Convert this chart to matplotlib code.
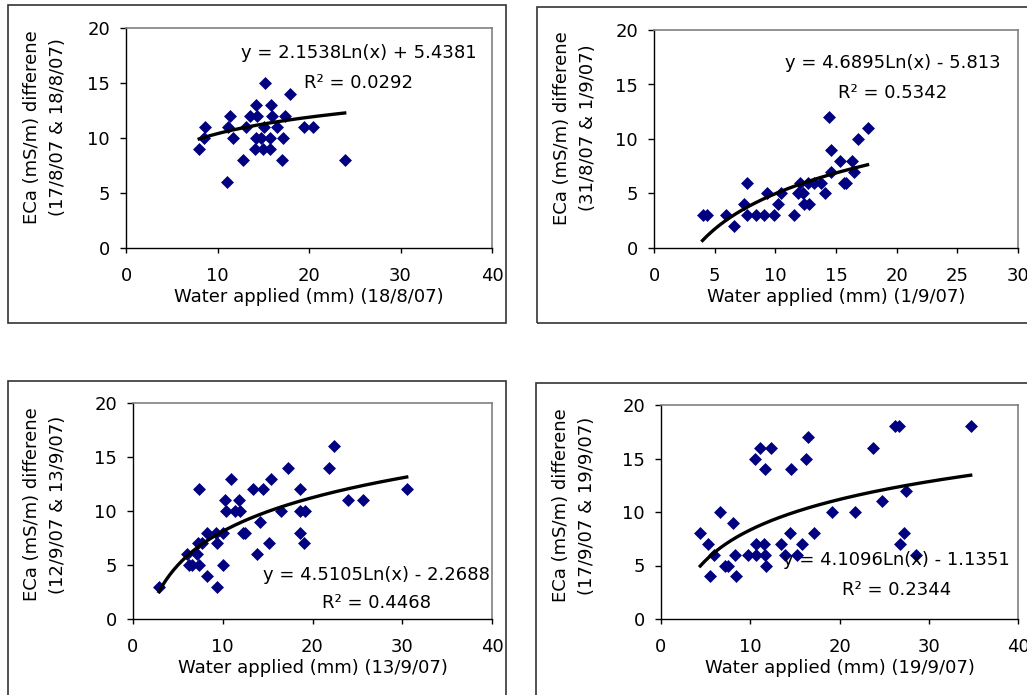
import numpy as np
import matplotlib
matplotlib.use("Agg")
import matplotlib.pyplot as plt
from matplotlib.patches import Rectangle

plt.rcParams['font.family'] = ['DejaVu Sans']
plt.rcParams['font.size'] = 13

# panel 1 : 17/8/07 & 18/8/07
p1_x = [8.0, 8.6, 8.5, 11.0, 11.4, 11.1, 11.7, 12.8, 13.1, 13.5, 14.2, 14.3, 14.2, 14.1,
        15.0, 15.2, 15.1, 15.9, 16.0, 15.7, 15.7, 16.5, 14.8, 17.0, 17.2, 17.4, 17.9,
        19.4, 20.4, 23.9]
p1_y = [9, 11, 10, 6, 12, 11, 10, 8, 11, 12, 13, 12, 10, 9,
        9, 15, 11, 13, 12, 10, 9, 11, 10, 8, 10, 12, 14,
        11, 11, 8]

# panel 2 : 31/8/07 & 1/9/07
p2_x = [4.0, 4.4, 5.9, 6.6, 7.4, 7.7, 7.7, 8.4, 9.1, 9.3, 9.9, 10.2, 10.5, 11.5, 11.9,
        12.0, 12.3, 12.4, 12.8, 12.7, 13.2, 13.8, 14.1, 14.4, 14.6, 14.6, 15.3, 15.7,
        15.8, 16.3, 16.5, 16.8, 17.6]
p2_y = [3, 3, 3, 2, 4, 6, 3, 3, 3, 5, 3, 4, 5, 3, 5,
        6, 5, 4, 4, 6, 6, 6, 5, 12, 9, 7, 8, 6,
        6, 8, 7, 10, 11]

# panel 3 : 12/9/07 & 13/9/07
p3_x = [2.9, 6.0, 6.2, 6.6, 7.1, 7.3, 7.4, 7.2, 7.7, 8.2, 8.3, 9.3, 9.4, 9.4, 10.0,
        10.0, 10.3, 10.4, 10.9, 11.4, 11.8, 11.9, 12.3, 12.5, 13.4, 13.8, 14.1, 14.5,
        15.1, 15.4, 16.5, 17.3, 18.6, 18.6, 18.6, 19.0, 19.2, 21.8, 22.4, 24.0, 25.6,
        30.5]
p3_y = [3, 6, 5, 5, 6, 5, 12, 7, 7, 4, 8, 8, 7, 3, 8,
        5, 11, 10, 13, 10, 11, 10, 8, 8, 12, 6, 9, 12,
        7, 13, 10, 14, 12, 10, 8, 7, 10, 14, 16, 11, 11,
        12]

# panel 4 : 17/9/07 & 19/9/07
p4_x = [4.4, 5.3, 5.5, 5.9, 6.6, 7.2, 7.5, 8.1, 8.3, 8.4, 9.8, 10.5, 10.7, 10.7, 11.1,
        11.5, 11.6, 11.7, 11.8, 12.3, 13.5, 13.9, 14.5, 14.6, 15.2, 15.8, 16.3, 16.5,
        17.1, 19.2, 21.7, 23.7, 24.8, 26.2, 26.7, 26.8, 27.2, 27.4, 28.6, 34.7]
p4_y = [8, 7, 4, 6, 10, 5, 5, 9, 6, 4, 6, 15, 7, 6, 16,
        7, 14, 6, 5, 16, 7, 6, 8, 14, 6, 7, 15, 17,
        8, 10, 10, 16, 11, 18, 18, 7, 8, 12, 6, 18]

# log trendlines as shown on the chart: y = a*Ln(x) + b
trend_a = [2.1538, 4.6895, 4.5105, 4.1096]
trend_b = [5.4381, -5.813, -2.2688, -1.1351]
eq_text = ["y = 2.1538Ln(x) + 5.4381", "y = 4.6895Ln(x) - 5.813",
           "y = 4.5105Ln(x) - 2.2688", "y = 4.1096Ln(x) - 1.1351"]
r2_text = ["R² = 0.0292", "R² = 0.5342", "R² = 0.4468", "R² = 0.2344"]
eq_pos = [(25.4, 17.7, 15.0), (19.7, 17.0, 14.2), (27.1, 4.1, 1.5), (26.4, 5.5, 2.7)]

ylabels = ["ECa (mS/m) differene\n(17/8/07 & 18/8/07)",
           "ECa (mS/m) differene\n(31/8/07 & 1/9/07)",
           "ECa (mS/m) differene\n(12/9/07 & 13/9/07)",
           "ECa (mS/m) differene\n(17/9/07 & 19/9/07)"]
xlabels = ["Water applied (mm) (18/8/07)", "Water applied (mm) (1/9/07)",
           "Water applied (mm) (13/9/07)", "Water applied (mm) (19/9/07)"]
xmax = [40, 30, 40, 40]
xstep = [10, 5, 10, 10]

W, H = 1027, 695
fig = plt.figure(figsize=(W / 100, H / 100), dpi=100)
fig.patch.set_facecolor('white')


def px_box(x0, y0, x1, y1):
    # pixel box (top-left origin) -> figure fraction [left, bottom, width, height]
    return [x0 / W, 1 - y1 / H, (x1 - x0) / W, (y1 - y0) / H]


# outer chart frames (right/bottom parts fall outside the picture, as in the scan)
frames = [(8, 5, 506, 323), (537, 7, 1040, 323), (8, 381, 506, 710), (536, 383, 1040, 710)]
for f in frames:
    b = px_box(*f)
    fig.add_artist(Rectangle(b[:2], b[2], b[3], transform=fig.transFigure,
                             fill=False, edgecolor='#333333', lw=1.2))

plot_areas = [(126, 28, 492, 248), (654, 30, 1018, 248), (133, 403, 492, 619), (661, 405, 1018, 619)]
label_x = [-0.221, -0.217, -0.245, -0.244]
label_y = [0.55, 0.55, 0.53, 0.53]

xs = [p1_x, p2_x, p3_x, p4_x]
ys = [p1_y, p2_y, p3_y, p4_y]

for i in range(4):
    ax = fig.add_axes(px_box(*plot_areas[i]))
    ax.scatter(xs[i], ys[i], marker='D', s=6.6 ** 2, color='#000080', linewidths=0, zorder=2)

    xx = np.linspace(min(xs[i]), max(xs[i]), 200)
    ax.plot(xx, trend_a[i] * np.log(xx) + trend_b[i], color='black', lw=2.4, zorder=3)

    tx, ty1, ty2 = eq_pos[i]
    ax.text(tx, ty1, eq_text[i], ha='center', va='center', zorder=4)
    ax.text(tx, ty2, r2_text[i], ha='center', va='center', zorder=4)

    ax.set_xlim(0, xmax[i])
    ax.set_ylim(0, 20)
    ax.set_xticks(np.arange(0, xmax[i] + 1, xstep[i]))
    ax.set_yticks([0, 5, 10, 15, 20])
    ax.tick_params(axis='y', direction='out', length=4.5, width=1, pad=7)
    ax.tick_params(axis='x', direction='out', length=3.8, width=1, pad=10)

    for s in ['top', 'right']:
        ax.spines[s].set_color('#808080')
        ax.spines[s].set_linewidth(1.2)
    for s in ['left', 'bottom']:
        ax.spines[s].set_color('black')
        ax.spines[s].set_linewidth(1)

    ax.set_xlabel(xlabels[i], labelpad=2)
    ax.set_ylabel(ylabels[i], va='center', linespacing=1.55)
    ax.yaxis.set_label_coords(label_x[i], label_y[i])

fig.savefig('out.png', dpi=100, facecolor='white')
